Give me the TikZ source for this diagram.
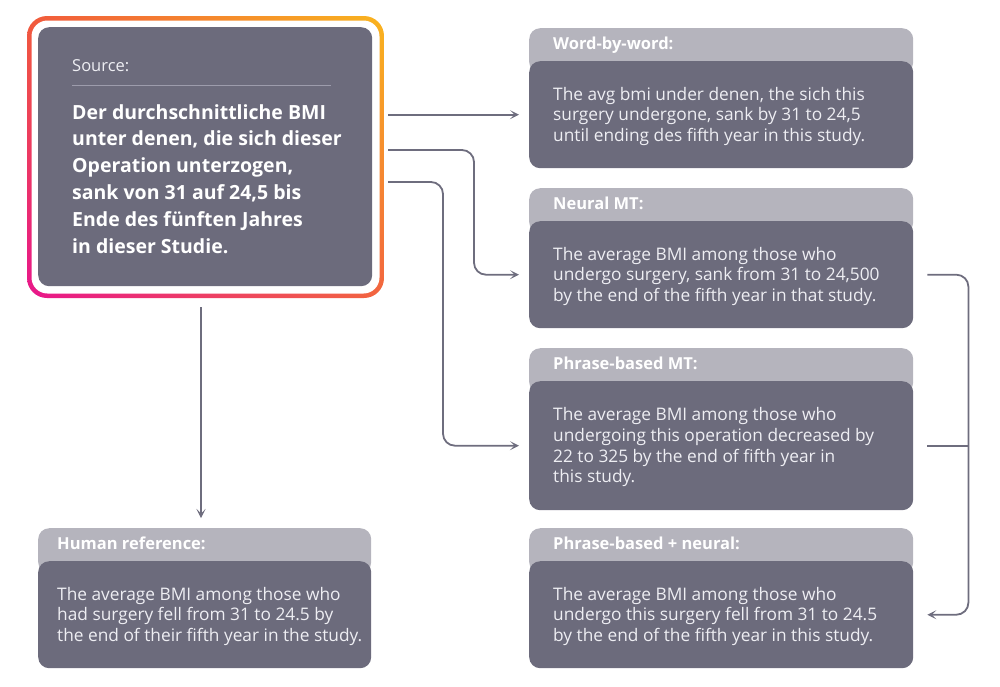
\documentclass[tikz,border=0pt]{standalone}
\usepackage{fontspec}
\setmainfont{Open Sans}
\usetikzlibrary{arrows.meta,calc,shadings}
\definecolor{boxdark}{HTML}{6C6B7C}
\definecolor{hdrcol}{HTML}{B5B4BD}
\definecolor{txtlight}{HTML}{EEEEF3}
\definecolor{conncol}{HTML}{6E6D7E}
\definecolor{rulecol}{HTML}{9D9CAC}
\definecolor{gUL}{HTML}{F15A3C}
\definecolor{gUR}{HTML}{F9B41E}
\definecolor{gLL}{HTML}{E8168B}
\definecolor{gLR}{HTML}{F2653F}
\tikzset{
  darkbox/.style={fill=boxdark, rounded corners=11pt, anchor=north west, inner sep=0pt},
  hdrbox/.style={fill=hdrcol, rounded corners=11pt, anchor=north west, inner sep=0pt, minimum height=45pt},
  hdrlbl/.style={anchor=base west, inner sep=0pt, text=white, font=\fontsize{16.5}{19}\selectfont\bfseries},
  bodytxt/.style={anchor=west, inner sep=0pt, text=txtlight, align=left,
     font=\fontsize{17.3}{20.6}\selectfont},
  rbox/.style={darkbox, minimum width=384pt},
  conn/.style={draw=conncol, line width=1.8pt, -{Stealth[length=9pt,width=9pt,inset=4.5pt]}, shorten >=10pt},
  connplain/.style={draw=conncol, line width=1.8pt},
}
\begin{document}
\begin{tikzpicture}[x=1pt,y=-1pt]
\useasboundingbox (0,0) rectangle (1000,686);
% gradient border of the source box
\begin{scope}
  \clip[rounded corners=20pt] (27,16) rectangle (384,298);
  \shade[upper left=gUL, upper right=gUR, lower left=gLL, lower right=gLR] (27,16) rectangle (384,298);
\end{scope}
\fill[white, rounded corners=16pt] (31.5,20.5) rectangle (379.5,293.5);
% source box
\node[darkbox, minimum width=334pt, minimum height=259pt] (src) at (38,27) {};
\node[anchor=base west, inner sep=0pt, text=txtlight, font=\fontsize{16.5}{18}\selectfont] (srclbl) at (72,71) {Source:};
\draw[rulecol, line width=1pt] (srclbl.base west |- 0,85) -- (331,85);
\node[anchor=base west, inner sep=0pt, text=white, align=left,
      font=\fontsize{19.5}{26.8}\selectfont\bfseries] (srctxt) at (72,253)
  {Der durchschnittliche BMI\\unter denen, die sich dieser\\Operation unterzogen,\\sank von 31 auf 24,5 bis\\Ende des fünften Jahres\\in dieser Studie.};
% right column
\node[hdrbox, minimum width=384pt] (wbwh) at (529,28) {};
\node[hdrlbl] (wbwl) at (553,49) {Word-by-word:};
\node[rbox, minimum height=107pt] (wbw) at (529,61) {};
\node[bodytxt] (wbwt) at ([xshift=24pt,yshift=-1.5pt]wbw.west)
  {The avg bmi under denen, the sich this\\surgery undergone, sank by 31 to 24,5\\until ending des fifth year in this study.};
\node[hdrbox, minimum width=384pt] (nmth) at (529,188) {};
\node[hdrlbl] (nmtl) at (553,209) {Neural MT:};
\node[rbox, minimum height=107pt] (nmt) at (529,221) {};
\node[bodytxt] (nmtt) at ([xshift=24pt,yshift=-1.5pt]nmt.west)
  {The average BMI among those who\\undergo surgery, sank from 31 to 24,500\\by the end of the fifth year in that study.};
\node[hdrbox, minimum width=384pt] (pbmth) at (529,348) {};
\node[hdrlbl] (pbmtl) at (553,369) {Phrase-based MT:};
\node[rbox, minimum height=129pt] (pbmt) at (529,381) {};
\node[bodytxt] (pbmtt) at ([xshift=24pt,yshift=-1.5pt]pbmt.west)
  {The average BMI among those who\\undergoing this operation decreased by\\22 to 325 by the end of fifth year in\\this study.};
\node[hdrbox, minimum width=384pt] (pbnh) at (529,528) {};
\node[hdrlbl] (pbnl) at (553,549) {Phrase-based + neural:};
\node[rbox, minimum height=107pt] (pbn) at (529,561) {};
\node[bodytxt] (pbnt) at ([xshift=24pt,yshift=-1.5pt]pbn.west)
  {The average BMI among those who\\undergo this surgery fell from 31 to 24.5\\by the end of the fifth year in this study.};
% human reference
\node[hdrbox, minimum width=333pt] (humh) at (38,528) {};
\node[hdrlbl] (huml) at (57,549) {Human reference:};
\node[darkbox, minimum width=333pt, minimum height=107pt] (hum) at (38,561) {};
\node[bodytxt] (humt) at ([xshift=19pt,yshift=-1.5pt]hum.west)
  {The average BMI among those who\\had surgery fell from 31 to 24.5 by\\the end of their fifth year in the study.};
% connectors
\draw[conn] ([xshift=16pt]src.east |- wbw.west) -- (wbw.west);
\coordinate (o2) at (388,150);
\coordinate (o3) at (388,182);
\draw[conn, rounded corners=12pt] (o2) -| ([xshift=-55pt]nmt.west) -- (nmt.west);
\draw[conn, rounded corners=12pt] (o3) -| ([xshift=-86pt]pbmt.west) -- (pbmt.west);
\draw[conn, rounded corners=12pt, shorten >=14pt] ([xshift=14pt]nmt.east) -| ([xshift=55pt]pbn.east) -- (pbn.east);
\draw[connplain] ([xshift=14pt]pbmt.east) -- ([xshift=55pt]pbmt.east);
\coordinate (dstart) at (201,307);
\draw[conn] (dstart) -- (dstart |- humh.north);
\end{tikzpicture}
\end{document}
